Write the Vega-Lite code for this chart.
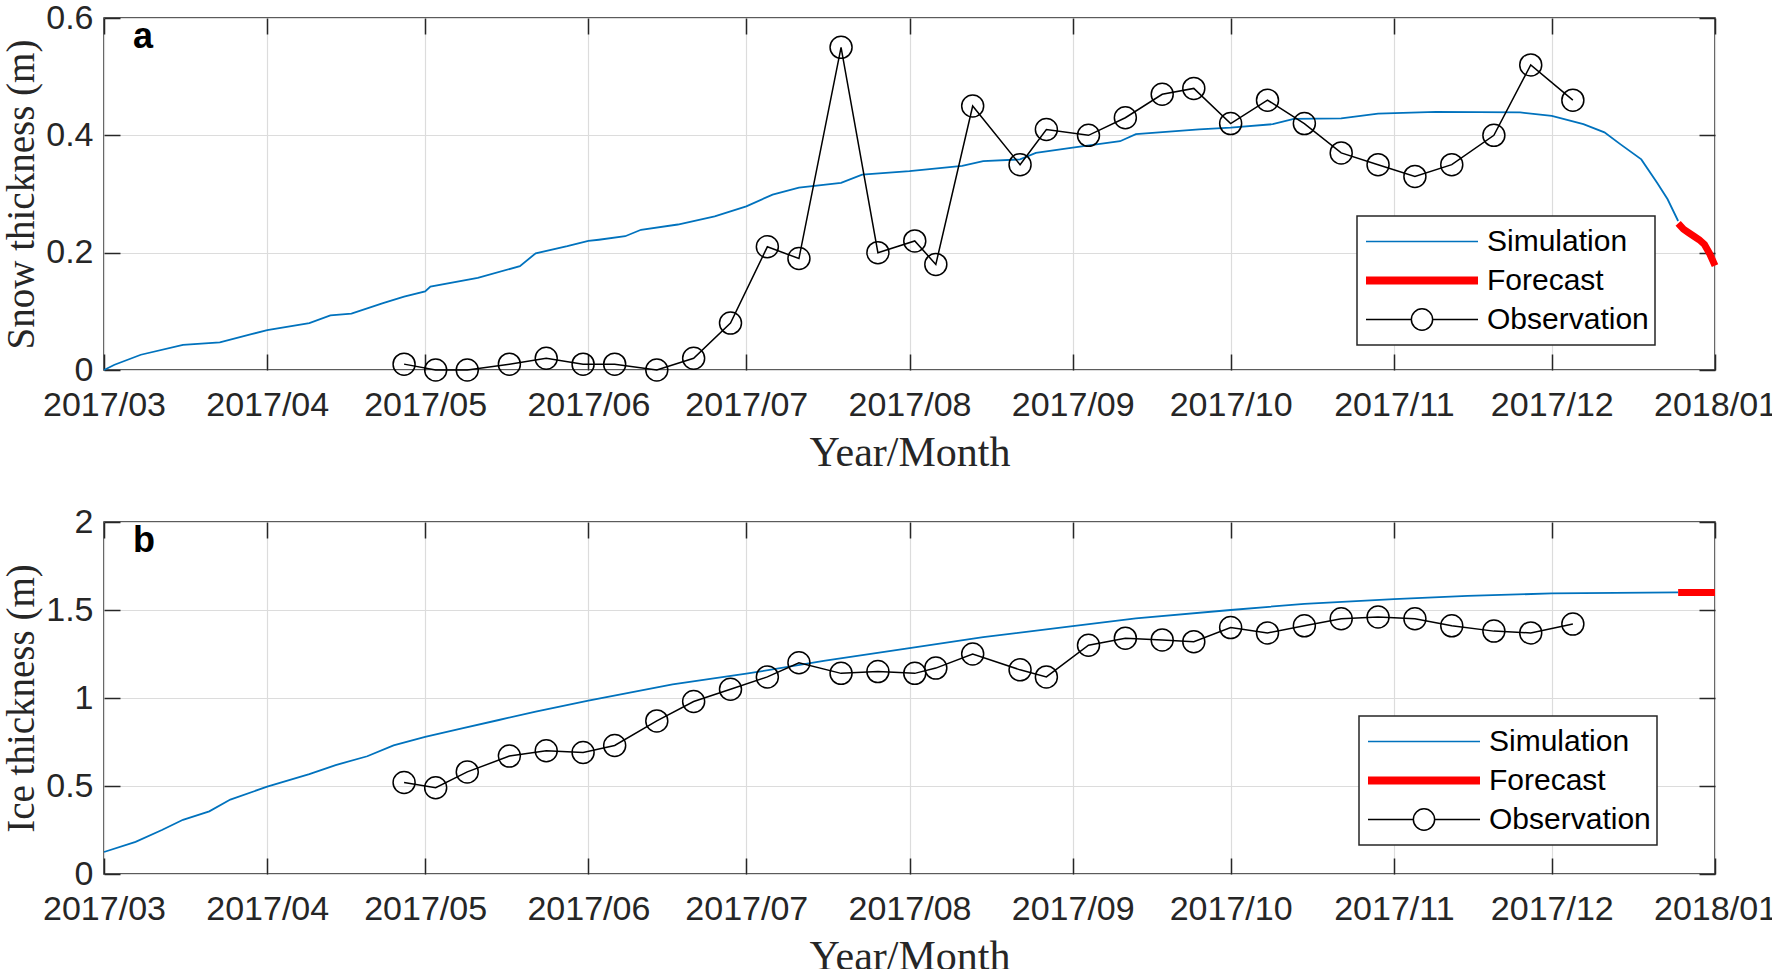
{
  "$schema": "https://vega.github.io/schema/vega-lite/v6.json",
  "background": "white",
  "padding": {"left": 1, "top": 0, "right": 0, "bottom": 0},
  "config": {
    "view": {"stroke": "#262626", "strokeWidth": 1.5},
    "font": "Liberation Sans",
    "axis": {
      "labelFont": "Liberation Sans", "labelFontSize": 34, "labelColor": "#262626", "labelFontWeight": "normal",
      "titleFont": "Liberation Serif", "titleFontSize": 42, "titleFontWeight": "normal", "titleColor": "#262626",
      "gridColor": "#dcdcdc", "gridWidth": 1.2, "tickColor": "#262626", "tickWidth": 1.5, "tickSize": -16,
      "domain": false
    },
    "legend": {
      "title": null, "orient": "none", "direction": "vertical",
      "padding": 6, "strokeColor": "#262626", "fillColor": "white",
      "labelFont": "Liberation Sans", "labelFontSize": 30, "labelColor": "black", "labelLimit": 400,
      "symbolSize": 12544, "symbolOffset": 2, "labelOffset": 8, "clipHeight": 39, "rowPadding": 0
    }
  },
  "datasets": {
    "snowSim": [
      {"date": "2017-03-01", "value": 0.0, "series": "Simulation"},
      {"date": "2017-03-03", "value": 0.009, "series": "Simulation"},
      {"date": "2017-03-08", "value": 0.026, "series": "Simulation"},
      {"date": "2017-03-16", "value": 0.043, "series": "Simulation"},
      {"date": "2017-03-23", "value": 0.047, "series": "Simulation"},
      {"date": "2017-03-29", "value": 0.061, "series": "Simulation"},
      {"date": "2017-04-01", "value": 0.068, "series": "Simulation"},
      {"date": "2017-04-09", "value": 0.080, "series": "Simulation"},
      {"date": "2017-04-13", "value": 0.093, "series": "Simulation"},
      {"date": "2017-04-17", "value": 0.096, "series": "Simulation"},
      {"date": "2017-04-23", "value": 0.114, "series": "Simulation"},
      {"date": "2017-04-27", "value": 0.125, "series": "Simulation"},
      {"date": "2017-05-01", "value": 0.134, "series": "Simulation"},
      {"date": "2017-05-02", "value": 0.142, "series": "Simulation"},
      {"date": "2017-05-11", "value": 0.157, "series": "Simulation"},
      {"date": "2017-05-19", "value": 0.177, "series": "Simulation"},
      {"date": "2017-05-22", "value": 0.199, "series": "Simulation"},
      {"date": "2017-05-28", "value": 0.211, "series": "Simulation"},
      {"date": "2017-06-01", "value": 0.220, "series": "Simulation"},
      {"date": "2017-06-03", "value": 0.222, "series": "Simulation"},
      {"date": "2017-06-08", "value": 0.228, "series": "Simulation"},
      {"date": "2017-06-11", "value": 0.239, "series": "Simulation"},
      {"date": "2017-06-18", "value": 0.248, "series": "Simulation"},
      {"date": "2017-06-25", "value": 0.262, "series": "Simulation"},
      {"date": "2017-07-01", "value": 0.279, "series": "Simulation"},
      {"date": "2017-07-06", "value": 0.299, "series": "Simulation"},
      {"date": "2017-07-11", "value": 0.311, "series": "Simulation"},
      {"date": "2017-07-19", "value": 0.319, "series": "Simulation"},
      {"date": "2017-07-23", "value": 0.333, "series": "Simulation"},
      {"date": "2017-08-01", "value": 0.339, "series": "Simulation"},
      {"date": "2017-08-11", "value": 0.348, "series": "Simulation"},
      {"date": "2017-08-15", "value": 0.356, "series": "Simulation"},
      {"date": "2017-08-22", "value": 0.359, "series": "Simulation"},
      {"date": "2017-08-25", "value": 0.370, "series": "Simulation"},
      {"date": "2017-09-01", "value": 0.379, "series": "Simulation"},
      {"date": "2017-09-10", "value": 0.390, "series": "Simulation"},
      {"date": "2017-09-13", "value": 0.402, "series": "Simulation"},
      {"date": "2017-09-25", "value": 0.410, "series": "Simulation"},
      {"date": "2017-10-01", "value": 0.413, "series": "Simulation"},
      {"date": "2017-10-09", "value": 0.419, "series": "Simulation"},
      {"date": "2017-10-13", "value": 0.428, "series": "Simulation"},
      {"date": "2017-10-22", "value": 0.429, "series": "Simulation"},
      {"date": "2017-10-29", "value": 0.437, "series": "Simulation"},
      {"date": "2017-11-09", "value": 0.440, "series": "Simulation"},
      {"date": "2017-11-25", "value": 0.439, "series": "Simulation"},
      {"date": "2017-12-01", "value": 0.433, "series": "Simulation"},
      {"date": "2017-12-07", "value": 0.419, "series": "Simulation"},
      {"date": "2017-12-11", "value": 0.405, "series": "Simulation"},
      {"date": "2017-12-14", "value": 0.385, "series": "Simulation"},
      {"date": "2017-12-18", "value": 0.359, "series": "Simulation"},
      {"date": "2017-12-21", "value": 0.319, "series": "Simulation"},
      {"date": "2017-12-23", "value": 0.291, "series": "Simulation"},
      {"date": "2017-12-25", "value": 0.254, "series": "Simulation"}
    ],
    "snowFc": [
      {"date": "2017-12-25", "value": 0.250, "series": "Forecast"},
      {"date": "2017-12-26", "value": 0.240, "series": "Forecast"},
      {"date": "2017-12-27", "value": 0.234, "series": "Forecast"},
      {"date": "2017-12-28", "value": 0.228, "series": "Forecast"},
      {"date": "2017-12-29", "value": 0.222, "series": "Forecast"},
      {"date": "2017-12-30", "value": 0.214, "series": "Forecast"},
      {"date": "2017-12-31", "value": 0.198, "series": "Forecast"},
      {"date": "2018-01-01", "value": 0.178, "series": "Forecast"}
    ],
    "snowObs": [
      {"date": "2017-04-27", "value": 0.01, "series": "Observation"},
      {"date": "2017-05-03", "value": 0.0, "series": "Observation"},
      {"date": "2017-05-09", "value": 0.0, "series": "Observation"},
      {"date": "2017-05-17", "value": 0.01, "series": "Observation"},
      {"date": "2017-05-24", "value": 0.02, "series": "Observation"},
      {"date": "2017-05-31", "value": 0.01, "series": "Observation"},
      {"date": "2017-06-06", "value": 0.01, "series": "Observation"},
      {"date": "2017-06-14", "value": 0.0, "series": "Observation"},
      {"date": "2017-06-21", "value": 0.02, "series": "Observation"},
      {"date": "2017-06-28", "value": 0.08, "series": "Observation"},
      {"date": "2017-07-05", "value": 0.21, "series": "Observation"},
      {"date": "2017-07-11", "value": 0.19, "series": "Observation"},
      {"date": "2017-07-19", "value": 0.55, "series": "Observation"},
      {"date": "2017-07-26", "value": 0.20, "series": "Observation"},
      {"date": "2017-08-02", "value": 0.22, "series": "Observation"},
      {"date": "2017-08-06", "value": 0.18, "series": "Observation"},
      {"date": "2017-08-13", "value": 0.45, "series": "Observation"},
      {"date": "2017-08-22", "value": 0.35, "series": "Observation"},
      {"date": "2017-08-27", "value": 0.41, "series": "Observation"},
      {"date": "2017-09-04", "value": 0.40, "series": "Observation"},
      {"date": "2017-09-11", "value": 0.43, "series": "Observation"},
      {"date": "2017-09-18", "value": 0.47, "series": "Observation"},
      {"date": "2017-09-24", "value": 0.48, "series": "Observation"},
      {"date": "2017-10-01", "value": 0.42, "series": "Observation"},
      {"date": "2017-10-08", "value": 0.46, "series": "Observation"},
      {"date": "2017-10-15", "value": 0.42, "series": "Observation"},
      {"date": "2017-10-22", "value": 0.37, "series": "Observation"},
      {"date": "2017-10-29", "value": 0.35, "series": "Observation"},
      {"date": "2017-11-05", "value": 0.33, "series": "Observation"},
      {"date": "2017-11-12", "value": 0.35, "series": "Observation"},
      {"date": "2017-11-20", "value": 0.40, "series": "Observation"},
      {"date": "2017-11-27", "value": 0.52, "series": "Observation"},
      {"date": "2017-12-05", "value": 0.46, "series": "Observation"}
    ],
    "iceSim": [
      {"date": "2017-03-01", "value": 0.125, "series": "Simulation"},
      {"date": "2017-03-07", "value": 0.183, "series": "Simulation"},
      {"date": "2017-03-12", "value": 0.250, "series": "Simulation"},
      {"date": "2017-03-16", "value": 0.308, "series": "Simulation"},
      {"date": "2017-03-21", "value": 0.356, "series": "Simulation"},
      {"date": "2017-03-25", "value": 0.423, "series": "Simulation"},
      {"date": "2017-04-01", "value": 0.496, "series": "Simulation"},
      {"date": "2017-04-09", "value": 0.567, "series": "Simulation"},
      {"date": "2017-04-14", "value": 0.619, "series": "Simulation"},
      {"date": "2017-04-20", "value": 0.669, "series": "Simulation"},
      {"date": "2017-04-25", "value": 0.731, "series": "Simulation"},
      {"date": "2017-05-01", "value": 0.779, "series": "Simulation"},
      {"date": "2017-05-08", "value": 0.827, "series": "Simulation"},
      {"date": "2017-05-15", "value": 0.875, "series": "Simulation"},
      {"date": "2017-05-22", "value": 0.923, "series": "Simulation"},
      {"date": "2017-06-01", "value": 0.985, "series": "Simulation"},
      {"date": "2017-06-17", "value": 1.077, "series": "Simulation"},
      {"date": "2017-07-01", "value": 1.138, "series": "Simulation"},
      {"date": "2017-07-16", "value": 1.212, "series": "Simulation"},
      {"date": "2017-08-01", "value": 1.283, "series": "Simulation"},
      {"date": "2017-08-15", "value": 1.346, "series": "Simulation"},
      {"date": "2017-09-01", "value": 1.408, "series": "Simulation"},
      {"date": "2017-09-13", "value": 1.452, "series": "Simulation"},
      {"date": "2017-10-01", "value": 1.500, "series": "Simulation"},
      {"date": "2017-10-15", "value": 1.535, "series": "Simulation"},
      {"date": "2017-11-01", "value": 1.562, "series": "Simulation"},
      {"date": "2017-11-15", "value": 1.580, "series": "Simulation"},
      {"date": "2017-12-01", "value": 1.594, "series": "Simulation"},
      {"date": "2017-12-25", "value": 1.600, "series": "Simulation"}
    ],
    "iceFc": [
      {"date": "2017-12-25", "value": 1.600, "series": "Forecast"},
      {"date": "2018-01-01", "value": 1.600, "series": "Forecast"}
    ],
    "iceObs": [
      {"date": "2017-04-27", "value": 0.52, "series": "Observation"},
      {"date": "2017-05-03", "value": 0.49, "series": "Observation"},
      {"date": "2017-05-09", "value": 0.58, "series": "Observation"},
      {"date": "2017-05-17", "value": 0.67, "series": "Observation"},
      {"date": "2017-05-24", "value": 0.70, "series": "Observation"},
      {"date": "2017-05-31", "value": 0.69, "series": "Observation"},
      {"date": "2017-06-06", "value": 0.73, "series": "Observation"},
      {"date": "2017-06-14", "value": 0.87, "series": "Observation"},
      {"date": "2017-06-21", "value": 0.98, "series": "Observation"},
      {"date": "2017-06-28", "value": 1.05, "series": "Observation"},
      {"date": "2017-07-05", "value": 1.12, "series": "Observation"},
      {"date": "2017-07-11", "value": 1.20, "series": "Observation"},
      {"date": "2017-07-19", "value": 1.14, "series": "Observation"},
      {"date": "2017-07-26", "value": 1.15, "series": "Observation"},
      {"date": "2017-08-02", "value": 1.14, "series": "Observation"},
      {"date": "2017-08-06", "value": 1.17, "series": "Observation"},
      {"date": "2017-08-13", "value": 1.25, "series": "Observation"},
      {"date": "2017-08-22", "value": 1.16, "series": "Observation"},
      {"date": "2017-08-27", "value": 1.12, "series": "Observation"},
      {"date": "2017-09-04", "value": 1.30, "series": "Observation"},
      {"date": "2017-09-11", "value": 1.34, "series": "Observation"},
      {"date": "2017-09-18", "value": 1.33, "series": "Observation"},
      {"date": "2017-09-24", "value": 1.32, "series": "Observation"},
      {"date": "2017-10-01", "value": 1.40, "series": "Observation"},
      {"date": "2017-10-08", "value": 1.37, "series": "Observation"},
      {"date": "2017-10-15", "value": 1.41, "series": "Observation"},
      {"date": "2017-10-22", "value": 1.45, "series": "Observation"},
      {"date": "2017-10-29", "value": 1.46, "series": "Observation"},
      {"date": "2017-11-05", "value": 1.45, "series": "Observation"},
      {"date": "2017-11-12", "value": 1.41, "series": "Observation"},
      {"date": "2017-11-20", "value": 1.38, "series": "Observation"},
      {"date": "2017-11-27", "value": 1.37, "series": "Observation"},
      {"date": "2017-12-05", "value": 1.42, "series": "Observation"}
    ]
  },
  "resolve": {"scale": {"color": "independent"}},
  "spacing": 30,
  "vconcat": [
    {
      "width": 1611, "height": 352,
      "resolve": {"axis": {"x": "independent", "y": "independent"}},
      "layer": [
        {
          "data": {"name": "snowSim"},
          "mark": {"type": "line", "strokeWidth": 1.8},
          "encoding": {
            "x": {"field": "date", "type": "temporal",
              "scale": {"type": "utc", "nice": false, "domain": [{"year": 2017, "month": 3, "date": 1, "utc": true}, {"year": 2018, "month": 1, "date": 1, "utc": true}]},
              "axis": {"orient": "bottom", "format": "%Y/%m", "labelFlush": false, "labelOverlap": false, "labelPadding": 34, "title": "Year/Month", "titlePadding": 10, "grid": true,
                "values": [{"year": 2017, "month": 3, "date": 1, "utc": true}, {"year": 2017, "month": 4, "date": 1, "utc": true}, {"year": 2017, "month": 5, "date": 1, "utc": true}, {"year": 2017, "month": 6, "date": 1, "utc": true}, {"year": 2017, "month": 7, "date": 1, "utc": true}, {"year": 2017, "month": 8, "date": 1, "utc": true}, {"year": 2017, "month": 9, "date": 1, "utc": true}, {"year": 2017, "month": 10, "date": 1, "utc": true}, {"year": 2017, "month": 11, "date": 1, "utc": true}, {"year": 2017, "month": 12, "date": 1, "utc": true}, {"year": 2018, "month": 1, "date": 1, "utc": true}]}},
            "y": {"field": "value", "type": "quantitative",
              "scale": {"domain": [0, 0.6], "nice": false},
              "axis": {"orient": "left", "values": [0, 0.2, 0.4, 0.6], "format": ".1~f", "labelPadding": 27, "title": "Snow thickness (m)", "titleFontSize": 39, "titlePadding": 4, "grid": true}},
            "color": {"field": "series", "type": "nominal",
              "scale": {"domain": ["Simulation", "Forecast", "Observation"], "range": ["#0072BD", "#FF0000", "#000000"]},
              "legend": {"legendX": 1253, "legendY": 198,
                "labelExpr": "datum.label + '\u2002\u2002'",
                "encode": {
                  "legend": {"update": {"strokeWidth": {"value": 1.5}}},
                  "symbols": {"update": {
                    "shape": {"signal": "(datum.value === 'Observation' ? 'M-1,0H-0.19C-0.19,-0.1049 -0.1049,-0.19 0,-0.19C0.1049,-0.19 0.19,-0.1049 0.19,0C0.19,0.1049 0.1049,0.19 0,0.19C-0.1049,0.19 -0.19,0.1049 -0.19,0M0.19,0H1' : 'M-1,0H1')"},
                    "stroke": {"signal": "(datum.value === 'Simulation' ? '#0072BD' : datum.value === 'Forecast' ? '#FF0000' : '#000000')"},
                    "strokeWidth": {"signal": "(datum.value === 'Forecast' ? 8 : 1.5)"},
                    "fill": {"value": "transparent"},
                    "size": {"value": 12544},
                    "opacity": {"value": 1}
                  }}
                }}}
          }
        },
        {
          "data": {"name": "snowFc"},
          "mark": {"type": "line", "strokeWidth": 7},
          "encoding": {
            "x": {"field": "date", "type": "temporal",
              "axis": {"orient": "top", "labels": false, "title": null, "grid": false,
                "values": [{"year": 2017, "month": 3, "date": 1, "utc": true}, {"year": 2017, "month": 4, "date": 1, "utc": true}, {"year": 2017, "month": 5, "date": 1, "utc": true}, {"year": 2017, "month": 6, "date": 1, "utc": true}, {"year": 2017, "month": 7, "date": 1, "utc": true}, {"year": 2017, "month": 8, "date": 1, "utc": true}, {"year": 2017, "month": 9, "date": 1, "utc": true}, {"year": 2017, "month": 10, "date": 1, "utc": true}, {"year": 2017, "month": 11, "date": 1, "utc": true}, {"year": 2017, "month": 12, "date": 1, "utc": true}, {"year": 2018, "month": 1, "date": 1, "utc": true}]}},
            "y": {"field": "value", "type": "quantitative",
              "axis": {"orient": "right", "labels": false, "title": null, "grid": false, "values": [0, 0.2, 0.4, 0.6]}},
            "color": {"field": "series", "type": "nominal"}
          }
        },
        {
          "data": {"name": "snowObs"},
          "mark": {"type": "line", "strokeWidth": 1.5},
          "encoding": {
            "x": {"field": "date", "type": "temporal", "axis": null},
            "y": {"field": "value", "type": "quantitative", "axis": null},
            "color": {"field": "series", "type": "nominal"}
          }
        },
        {
          "data": {"name": "snowObs"},
          "mark": {"type": "point", "filled": false, "size": 484, "strokeWidth": 1.5, "opacity": 1},
          "encoding": {
            "x": {"field": "date", "type": "temporal", "axis": null},
            "y": {"field": "value", "type": "quantitative", "axis": null},
            "color": {"field": "series", "type": "nominal"}
          }
        },
        {
          "data": {"values": [{}]},
          "mark": {"type": "text", "text": "a", "font": "Liberation Sans", "fontSize": 36, "fontWeight": "bold", "align": "left", "baseline": "alphabetic", "color": "black"},
          "encoding": {
            "x": {"datum": {"year": 2017, "month": 3, "date": 6, "hours": 12, "utc": true}, "type": "temporal", "axis": null},
            "y": {"datum": 0.549, "type": "quantitative", "axis": null}
          }
        }
      ]
    },
    {
      "width": 1611, "height": 352,
      "resolve": {"axis": {"x": "independent", "y": "independent"}},
      "layer": [
        {
          "data": {"name": "iceSim"},
          "mark": {"type": "line", "strokeWidth": 1.8},
          "encoding": {
            "x": {"field": "date", "type": "temporal",
              "scale": {"type": "utc", "nice": false, "domain": [{"year": 2017, "month": 3, "date": 1, "utc": true}, {"year": 2018, "month": 1, "date": 1, "utc": true}]},
              "axis": {"orient": "bottom", "format": "%Y/%m", "labelFlush": false, "labelOverlap": false, "labelPadding": 34, "title": "Year/Month", "titlePadding": 10, "grid": true,
                "values": [{"year": 2017, "month": 3, "date": 1, "utc": true}, {"year": 2017, "month": 4, "date": 1, "utc": true}, {"year": 2017, "month": 5, "date": 1, "utc": true}, {"year": 2017, "month": 6, "date": 1, "utc": true}, {"year": 2017, "month": 7, "date": 1, "utc": true}, {"year": 2017, "month": 8, "date": 1, "utc": true}, {"year": 2017, "month": 9, "date": 1, "utc": true}, {"year": 2017, "month": 10, "date": 1, "utc": true}, {"year": 2017, "month": 11, "date": 1, "utc": true}, {"year": 2017, "month": 12, "date": 1, "utc": true}, {"year": 2018, "month": 1, "date": 1, "utc": true}]}},
            "y": {"field": "value", "type": "quantitative",
              "scale": {"domain": [0, 2], "nice": false},
              "axis": {"orient": "left", "values": [0, 0.5, 1, 1.5, 2], "format": ".1~f", "labelPadding": 27, "title": "Ice thickness (m)", "titleFontSize": 39, "titlePadding": 4, "grid": true}},
            "color": {"field": "series", "type": "nominal",
              "scale": {"domain": ["Simulation", "Forecast", "Observation"], "range": ["#0072BD", "#FF0000", "#000000"]},
              "legend": {"legendX": 1255, "legendY": 194,
                "labelExpr": "datum.label + '\u2002\u2002'",
                "encode": {
                  "legend": {"update": {"strokeWidth": {"value": 1.5}}},
                  "symbols": {"update": {
                    "shape": {"signal": "(datum.value === 'Observation' ? 'M-1,0H-0.19C-0.19,-0.1049 -0.1049,-0.19 0,-0.19C0.1049,-0.19 0.19,-0.1049 0.19,0C0.19,0.1049 0.1049,0.19 0,0.19C-0.1049,0.19 -0.19,0.1049 -0.19,0M0.19,0H1' : 'M-1,0H1')"},
                    "stroke": {"signal": "(datum.value === 'Simulation' ? '#0072BD' : datum.value === 'Forecast' ? '#FF0000' : '#000000')"},
                    "strokeWidth": {"signal": "(datum.value === 'Forecast' ? 8 : 1.5)"},
                    "fill": {"value": "transparent"},
                    "size": {"value": 12544},
                    "opacity": {"value": 1}
                  }}
                }}}
          }
        },
        {
          "data": {"name": "iceFc"},
          "mark": {"type": "line", "strokeWidth": 7},
          "encoding": {
            "x": {"field": "date", "type": "temporal",
              "axis": {"orient": "top", "labels": false, "title": null, "grid": false,
                "values": [{"year": 2017, "month": 3, "date": 1, "utc": true}, {"year": 2017, "month": 4, "date": 1, "utc": true}, {"year": 2017, "month": 5, "date": 1, "utc": true}, {"year": 2017, "month": 6, "date": 1, "utc": true}, {"year": 2017, "month": 7, "date": 1, "utc": true}, {"year": 2017, "month": 8, "date": 1, "utc": true}, {"year": 2017, "month": 9, "date": 1, "utc": true}, {"year": 2017, "month": 10, "date": 1, "utc": true}, {"year": 2017, "month": 11, "date": 1, "utc": true}, {"year": 2017, "month": 12, "date": 1, "utc": true}, {"year": 2018, "month": 1, "date": 1, "utc": true}]}},
            "y": {"field": "value", "type": "quantitative",
              "axis": {"orient": "right", "labels": false, "title": null, "grid": false, "values": [0, 0.5, 1, 1.5, 2]}},
            "color": {"field": "series", "type": "nominal"}
          }
        },
        {
          "data": {"name": "iceObs"},
          "mark": {"type": "line", "strokeWidth": 1.5},
          "encoding": {
            "x": {"field": "date", "type": "temporal", "axis": null},
            "y": {"field": "value", "type": "quantitative", "axis": null},
            "color": {"field": "series", "type": "nominal"}
          }
        },
        {
          "data": {"name": "iceObs"},
          "mark": {"type": "point", "filled": false, "size": 484, "strokeWidth": 1.5, "opacity": 1},
          "encoding": {
            "x": {"field": "date", "type": "temporal", "axis": null},
            "y": {"field": "value", "type": "quantitative", "axis": null},
            "color": {"field": "series", "type": "nominal"}
          }
        },
        {
          "data": {"values": [{}]},
          "mark": {"type": "text", "text": "b", "font": "Liberation Sans", "fontSize": 36, "fontWeight": "bold", "align": "left", "baseline": "alphabetic", "color": "black"},
          "encoding": {
            "x": {"datum": {"year": 2017, "month": 3, "date": 6, "hours": 12, "utc": true}, "type": "temporal", "axis": null},
            "y": {"datum": 1.83, "type": "quantitative", "axis": null}
          }
        }
      ]
    }
  ]
}
